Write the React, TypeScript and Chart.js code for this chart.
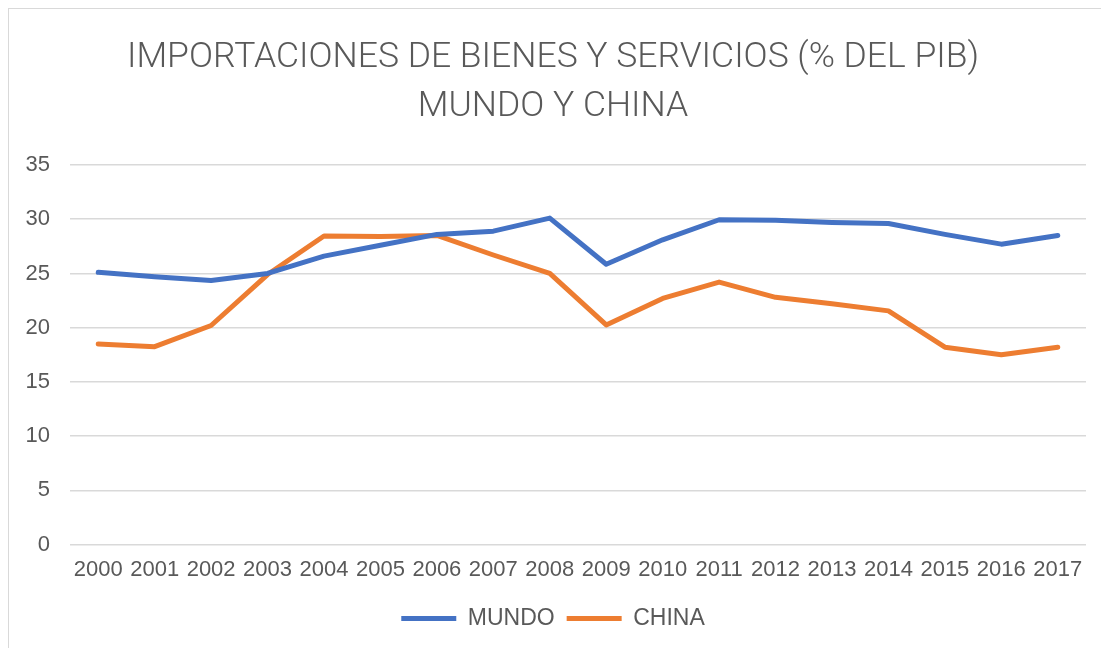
import React, { useEffect, useRef } from "react";
import { Chart, registerables } from "chart.js";

Chart.register(...registerables);

const titleLines = ["IMPORTACIONES DE BIENES Y SERVICIOS (% DEL PIB)", "MUNDO Y CHINA"];
const years = ["2000","2001","2002","2003","2004","2005","2006","2007","2008","2009","2010","2011","2012","2013","2014","2015","2016","2017"];
const mundo = [25.1, 24.7, 24.35, 25.0, 26.6, 27.6, 28.6, 28.9, 30.1, 25.85, 28.1, 29.95, 29.9, 29.7, 29.6, 28.6, 27.7, 28.5];
const china = [18.5, 18.25, 20.2, 24.9, 28.45, 28.4, 28.5, 26.7, 25.0, 20.25, 22.7, 24.2, 22.8, 22.2, 21.55, 18.2, 17.5, 18.2];
const yMin = 0;
const yMax = 35;
const yStep = 5;

export default function App() {
  const ref = useRef<HTMLCanvasElement | null>(null);
  useEffect(() => {
    document.body.style.overflow = "hidden";
    const ctx = ref.current!;
    const chart = new Chart(ctx, {
      type: "line",
      data: {
        labels: years,
        datasets: [
          { label: "MUNDO", data: mundo, borderColor: "#4472C4", backgroundColor: "#4472C4", borderWidth: 5, pointRadius: 0, pointStyle: "line", borderCapStyle: "round", borderJoinStyle: "round", tension: 0 },
          { label: "CHINA", data: china, borderColor: "#ED7D31", backgroundColor: "#ED7D31", borderWidth: 5, pointRadius: 0, pointStyle: "line", borderCapStyle: "round", borderJoinStyle: "round", tension: 0 },
        ],
      },
      options: {
        animation: false,
        responsive: false,
        layout: { padding: { left: 11, right: 23, top: 0, bottom: 8 } },
        plugins: {
          title: {
            display: true,
            text: titleLines,
            color: "#595959",
            font: { family: "Roboto", size: 35.5, weight: "300", lineHeight: 1.38 },
            padding: { top: 25, bottom: 33 },
          },
          legend: {
            position: "bottom",
            labels: {
              usePointStyle: true,
              pointStyle: "line",
              pointStyleWidth: 55,
              color: "#595959",
              font: { family: "Liberation Sans", size: 23 },
              padding: 12,
            },
          },
          tooltip: { enabled: false },
        },
        scales: {
          x: {
            offset: true,
            grid: { display: false, drawTicks: false },
            border: { display: false },
            ticks: { color: "#595959", font: { family: "Liberation Sans", size: 22 }, padding: 12, maxRotation: 0, autoSkip: false },
          },
          y: {
            min: yMin,
            max: yMax,
            afterFit: (scale: any) => { scale.width = 50; },
            grid: { color: "#d9d9d9", lineWidth: 1.5, drawTicks: false },
            border: { display: false },
            ticks: { stepSize: yStep, color: "#595959", font: { family: "Liberation Sans", size: 22 }, padding: 20 },
          },
        },
      },
    });
    return () => chart.destroy();
  }, []);
  return (
    <div style={{ width: 1102, height: 641, border: "1px solid #d9d9d9", boxSizing: "border-box", background: "#fff" }}>
      <canvas ref={ref} width={1100} height={639} style={{ display: "block" }} />
    </div>
  );
}
